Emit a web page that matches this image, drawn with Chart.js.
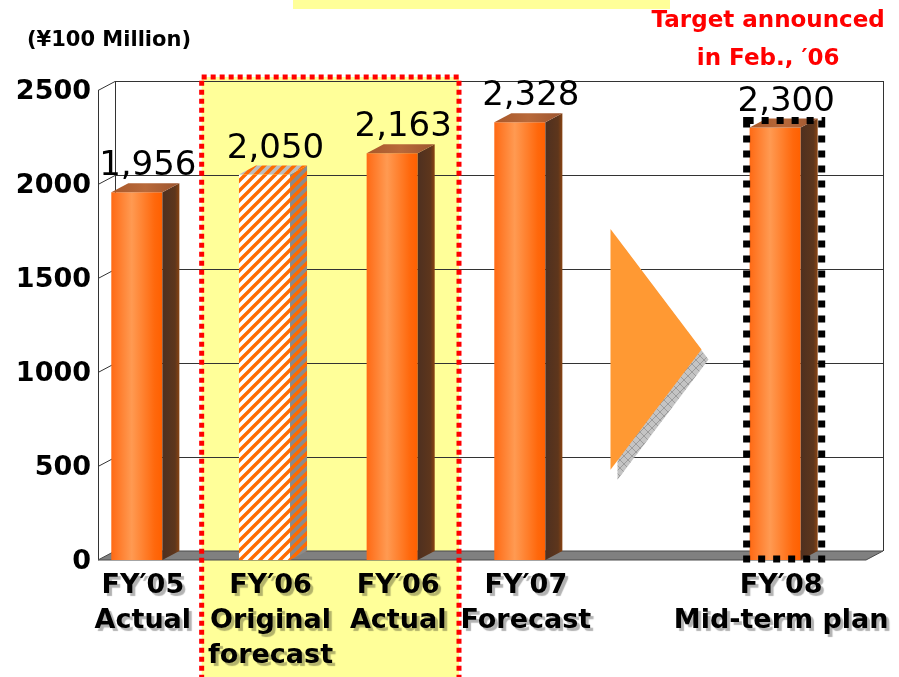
<!DOCTYPE html>
<html>
<head>
<meta charset="utf-8">
<title>Net sales</title>
<script src="https://cdn.jsdelivr.net/npm/chart.js@4.4.1/dist/chart.umd.min.js"></script>
<style>
  html, body { margin: 0; padding: 0; background: #fff; }
  #chart { display: block; }
</style>
</head>
<body>
<canvas id="chart" width="899" height="677"></canvas>
<script>
// Net sales, ¥100 million
const categories = [
  ['FY′05', 'Actual'],
  ['FY′06', 'Original', 'forecast'],
  ['FY′06', 'Actual'],
  ['FY′07', 'Forecast'],
  '',
  ['FY′08', 'Mid-term plan']
];
const values = [1956, 2050, 2163, 2328, null, 2300];
const yTicks = [0, 500, 1000, 1500, 2000, 2500];

const hatchedIndex = 1;   // original forecast, drawn striped
const planIndex = 5;      // mid-term target, dotted frame
const arrowIndex = 4;     // empty slot holding the arrow

const DX = 17, DY = -9;   // depth offset of the 3-D box
const BAR_SHARE = 0.4;

const canvas = document.getElementById('chart');
const ctx0 = canvas.getContext('2d');

function stripes(bg, fg) {
  const s = 10, c = document.createElement('canvas');
  c.width = c.height = s;
  const g = c.getContext('2d');
  g.fillStyle = bg;
  g.fillRect(0, 0, s, s);
  g.strokeStyle = fg;
  g.lineWidth = 3.4;
  g.beginPath();
  g.moveTo(-2, 2); g.lineTo(2, -2);
  g.moveTo(0, s); g.lineTo(s, 0);
  g.moveTo(s - 2, s + 2); g.lineTo(s + 2, s - 2);
  g.stroke();
  return ctx0.createPattern(c, 'repeat');
}

function crossHatch() {
  const s = 8, c = document.createElement('canvas');
  c.width = c.height = s;
  const g = c.getContext('2d');
  g.fillStyle = '#c4c4c4';
  g.fillRect(0, 0, s, s);
  g.strokeStyle = '#9c9c9c';
  g.lineWidth = 1;
  g.beginPath();
  g.moveTo(0, 0); g.lineTo(s, s);
  g.moveTo(s, 0); g.lineTo(0, s);
  g.stroke();
  return ctx0.createPattern(c, 'repeat');
}

const stripeFront = stripes('#ffffff', '#ff6a00');
const stripeSide = stripes('#8a8a8a', '#ff6a00');
const stripeTop = stripes('#bdbdbd', '#ff6a00');
const shadowHatch = crossHatch();

function barFront(c) {
  if (c.dataIndex === hatchedIndex) return stripeFront;
  const xs = c.chart.scales.x;
  if (!xs || !c.chart.chartArea) return '#ff6600';
  const w = xs.width / categories.length * BAR_SHARE;
  const cx = xs.getPixelForValue(c.dataIndex);
  const g = c.chart.ctx.createLinearGradient(cx - w / 2, 0, cx + w / 2, 0);
  g.addColorStop(0, '#ff6a14');
  g.addColorStop(0.4, '#ff9a52');
  g.addColorStop(0.85, '#ff680c');
  g.addColorStop(1, '#ff6000');
  return g;
}

function box(chart) {
  const {chartArea: a, scales: {y}} = chart;
  return {
    left: a.left + 25,
    right: a.right + 27,
    top: y.getPixelForValue(yTicks[yTicks.length - 1]),
    bottom: y.getPixelForValue(yTicks[0])
  };
}

// FY'06 highlight panel spans the two FY'06 columns
function panel(chart) {
  const x = chart.scales.x;
  return {
    left: (x.getPixelForValue(0) + x.getPixelForValue(1)) / 2 + 1,
    right: (x.getPixelForValue(2) + x.getPixelForValue(3)) / 2 + 3,
    top: box(chart).top - 13
  };
}

const box3d = {
  id: 'box3d',
  beforeDraw(chart) {
    const ctx = chart.ctx;
    const p = panel(chart);
    ctx.save();
    ctx.fillStyle = '#ffffff';
    ctx.fillRect(0, 0, chart.width, chart.height);
    ctx.fillStyle = '#ffff99';
    ctx.fillRect(293, 0, 377, 9);
    ctx.fillRect(p.left, p.top, p.right - p.left, chart.height - p.top);
    ctx.restore();
  },
  beforeDatasetsDraw(chart) {
    const {ctx, scales: {y}} = chart;
    const b = box(chart);
    ctx.save();
    ctx.lineWidth = 1;
    ctx.strokeStyle = '#333';
    ctx.beginPath();
    // gridlines on back wall and left side wall
    y.ticks.forEach(t => {
      if (t.value === yTicks[0]) return;
      const yf = Math.round(y.getPixelForValue(t.value)) + 0.5;
      ctx.moveTo(b.left, yf);
      ctx.lineTo(b.left + DX, yf + DY);
      ctx.lineTo(b.right + DX, yf + DY);
    });
    // wall edges
    ctx.moveTo(b.left + 0.5, b.top);
    ctx.lineTo(b.left + 0.5, b.bottom);
    ctx.moveTo(b.left + DX + 0.5, b.top + DY);
    ctx.lineTo(b.left + DX + 0.5, b.bottom + DY);
    ctx.moveTo(b.right + DX + 0.5, b.top + DY);
    ctx.lineTo(b.right + DX + 0.5, b.bottom + DY);
    ctx.stroke();
    // floor
    ctx.beginPath();
    ctx.moveTo(b.left, b.bottom);
    ctx.lineTo(b.right, b.bottom);
    ctx.lineTo(b.right + DX, b.bottom + DY);
    ctx.lineTo(b.left + DX, b.bottom + DY);
    ctx.closePath();
    ctx.fillStyle = '#808080';
    ctx.fill();
    ctx.strokeStyle = '#4a4a4a';
    ctx.stroke();
    ctx.restore();
  },
  afterDatasetsDraw(chart) {
    const {ctx, scales: {x, y}} = chart;
    const b = box(chart);
    const meta = chart.getDatasetMeta(0);
    ctx.save();

    // side and top faces, value labels
    meta.data.forEach((bar, i) => {
      if (values[i] == null) return;
      const {x: cx, y: top, base, width} = bar.getProps(['x', 'y', 'base', 'width'], true);
      const l = cx - width / 2, r = cx + width / 2;
      const hatched = i === hatchedIndex;

      let side = stripeSide;
      if (!hatched) {
        side = ctx.createLinearGradient(r, 0, r + DX, 0);
        side.addColorStop(0, '#4e3020');
        side.addColorStop(0.75, '#5e361c');
        side.addColorStop(1, '#8a4412');
      }
      ctx.beginPath();
      ctx.moveTo(r, top);
      ctx.lineTo(r + DX, top + DY);
      ctx.lineTo(r + DX, base + DY);
      ctx.lineTo(r, base);
      ctx.closePath();
      ctx.fillStyle = side;
      ctx.fill();

      let lid = stripeTop;
      if (!hatched) {
        lid = ctx.createLinearGradient(l, 0, r + DX, 0);
        lid.addColorStop(0, '#a8582a');
        lid.addColorStop(0.5, '#b8693a');
        lid.addColorStop(1, '#9c5530');
      }
      ctx.beginPath();
      ctx.moveTo(l, top);
      ctx.lineTo(l + DX, top + DY);
      ctx.lineTo(r + DX, top + DY);
      ctx.lineTo(r, top);
      ctx.closePath();
      ctx.fillStyle = lid;
      ctx.fill();

      ctx.fillStyle = '#000';
      ctx.font = '34px "DejaVu Sans"';
      ctx.textAlign = 'center';
      ctx.textBaseline = 'alphabetic';
      ctx.fillText(values[i].toLocaleString('en-US'), cx + 11, top - 17);

      if (i === planIndex) {
        ctx.save();
        ctx.strokeStyle = '#000';
        ctx.lineWidth = 7;
        ctx.setLineDash([7, 8]);
        ctx.strokeRect(l - 3, top - 7, (r + DX + 4) - (l - 3), base - 1 - (top - 7));
        ctx.restore();
      }
    });

    // arrow towards the mid-term plan, with hatched shadow
    const ax = x.getPixelForValue(arrowIndex);
    const aTop = y.getPixelForValue(1760), aBot = y.getPixelForValue(480);
    const tri = (ox, oy) => {
      ctx.beginPath();
      ctx.moveTo(ax - 37 + ox, aTop + oy);
      ctx.lineTo(ax + 54 + ox, (aTop + aBot) / 2 + oy);
      ctx.lineTo(ax - 37 + ox, aBot + oy);
      ctx.closePath();
    };
    tri(7, 10);
    ctx.fillStyle = shadowHatch;
    ctx.fill();
    tri(0, 0);
    ctx.fillStyle = '#ff9933';
    ctx.fill();

    // red dotted frame around FY'06
    const p = panel(chart);
    ctx.save();
    ctx.strokeStyle = '#ff0000';
    ctx.lineWidth = 5;
    ctx.setLineDash([5, 4]);
    ctx.strokeRect(p.left, p.top, p.right - p.left, chart.height + 20 - p.top);
    ctx.restore();

    // value axis labels
    ctx.fillStyle = '#000';
    ctx.font = 'bold 27px "DejaVu Sans"';
    ctx.textAlign = 'right';
    ctx.textBaseline = 'middle';
    y.ticks.forEach(t => {
      ctx.fillText(String(t.value), b.left - 7, y.getPixelForValue(t.value) + 2);
    });

    // unit and target note
    ctx.textAlign = 'left';
    ctx.textBaseline = 'alphabetic';
    ctx.font = 'bold 21px "DejaVu Sans"';
    ctx.fillText('(¥100 Million)', 27, 46);
    ctx.fillStyle = '#ff0000';
    ctx.font = 'bold 23px "DejaVu Sans"';
    ctx.textAlign = 'center';
    const nx = x.getPixelForValue(planIndex) - 7;
    ctx.fillText('Target announced', nx, 27);
    ctx.fillText('in Feb., ′06', nx, 65);
    ctx.restore();

    // soft drop shadow for the category labels drawn next
    ctx.save();
    ctx.shadowColor = 'rgba(0, 0, 0, 0.3)';
    ctx.shadowOffsetX = 3;
    ctx.shadowOffsetY = 3;
    ctx.shadowBlur = 1;
  },
  afterDraw(chart) {
    chart.ctx.restore();
  }
};

new Chart(canvas, {
  type: 'bar',
  data: {
    labels: categories,
    datasets: [{
      data: values,
      backgroundColor: barFront,
      borderWidth: 0,
      categoryPercentage: 1,
      barPercentage: BAR_SHARE
    }]
  },
  options: {
    responsive: false,
    animation: false,
    devicePixelRatio: 1,
    layout: { padding: { top: 90, right: 60, bottom: 0, left: 0 } },
    plugins: {
      legend: { display: false },
      tooltip: { enabled: false }
    },
    scales: {
      x: {
        grid: { display: false, drawTicks: false },
        border: { display: false },
        ticks: {
          autoSkip: false,
          maxRotation: 0,
          color: '#000',
          padding: 8,
          labelOffset: 6,
          z: 1,
          font: { family: 'DejaVu Sans', weight: 'bold', size: 27, lineHeight: 1.3 }
        },
        afterFit: s => { s.height = 117; s.paddingLeft = 0; s.paddingRight = 0; }
      },
      y: {
        min: yTicks[0],
        max: yTicks[yTicks.length - 1],
        ticks: { display: false, stepSize: yTicks[1] - yTicks[0] },
        grid: { display: false, drawTicks: false },
        border: { display: false },
        afterFit: s => { s.width = 73; }
      }
    }
  },
  plugins: [box3d]
});
</script>
</body>
</html>
